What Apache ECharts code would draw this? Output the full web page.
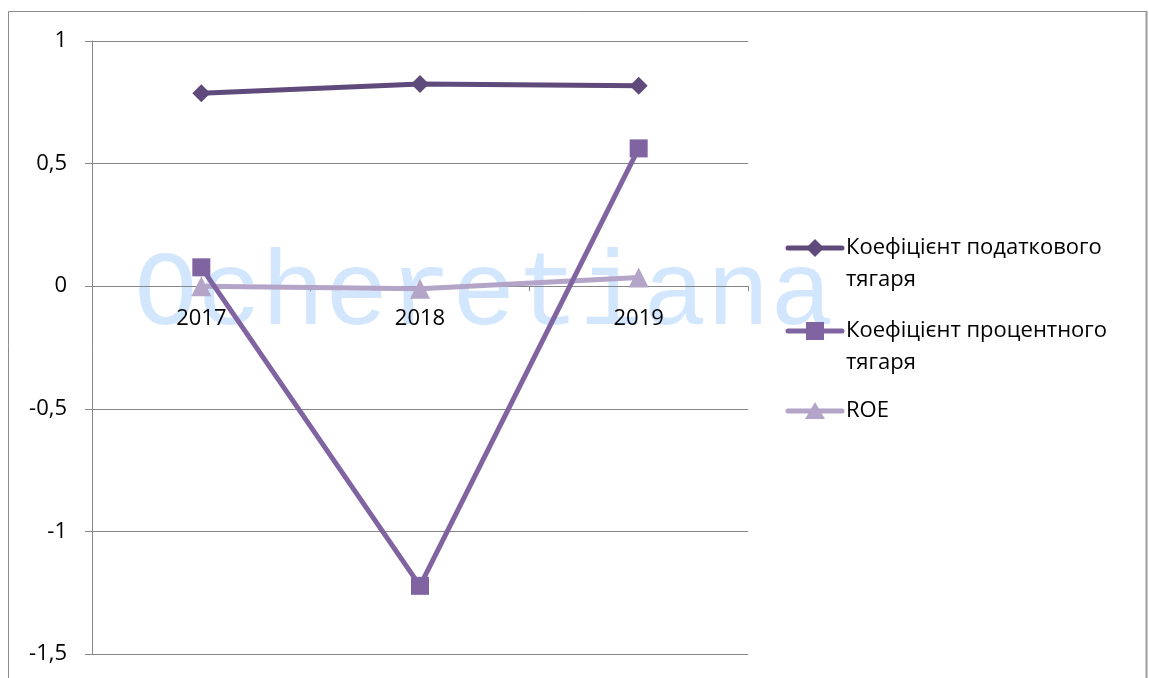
<!DOCTYPE html>
<html>
<head>
<meta charset="utf-8">
<script src="https://cdn.jsdelivr.net/npm/echarts@6/dist/echarts.min.js"></script>
<style>html,body{margin:0;padding:0;background:#fff;}#c{width:1149px;height:678px;}</style>
</head>
<body>
<div id="c"></div>
<script>
var categories = ['2017', '2018', '2019'];
var seriesNames = ['Коефіцієнт податкового тягаря', 'Коефіцієнт процентного тягаря', 'ROE'];
var legendLines = [['Коефіцієнт податкового', 'тягаря'], ['Коефіцієнт процентного', 'тягаря'], ['ROE']];
var taxBurden = [0.787, 0.825, 0.817];
var interestBurden = [0.077, -1.222, 0.562];
var roe = [0.0, -0.01, 0.035];
var yTicks = [-1.5, -1, -0.5, 0, 0.5, 1];

var colors = ['#604a7b', '#8064a2', '#b3a4c8'];
var symbols = ['diamond', 'rect', 'triangle'];
var font = '"Open Sans", "Noto Sans", sans-serif';

var chart = echarts.init(document.getElementById('c'));

function legendGraphics() {
  var g = [];
  var ys = [248, 331, 411];
  for (var i = 0; i < 3; i++) {
    var y = ys[i];
    g.push({type: 'line', shape: {x1: 788, y1: y, x2: 842, y2: y},
      style: {stroke: colors[i], lineWidth: 5, lineCap: 'round'}, z: 10});
    if (i === 0) {
      g.push({type: 'polygon', shape: {points: [[815, y - 9], [824, y], [815, y + 9], [806, y]]},
        style: {fill: colors[i]}, z: 11});
    } else if (i === 1) {
      g.push({type: 'rect', shape: {x: 806, y: y - 9, width: 18, height: 18},
        style: {fill: colors[i]}, z: 11});
    } else {
      g.push({type: 'polygon', shape: {points: [[815, y - 9], [825, y + 8], [805, y + 8]]},
        style: {fill: colors[i]}, z: 11});
    }
    for (var k = 0; k < legendLines[i].length; k++) {
      g.push({type: 'text', x: 846, y: y + k * 32,
        style: {text: legendLines[i][k], fill: '#000', font: '22px ' + font, verticalAlign: 'middle', align: 'left'}, z: 11});
    }
  }
  return g;
}

var graphics = [
  {type: 'rect', shape: {x: 8.5, y: 11.5, width: 1138, height: 700},
    style: {fill: 'none', stroke: '#8a8a8a', lineWidth: 1}, z: 0},
  {type: 'line', shape: {x1: 1146.5, y1: 11, x2: 1146.5, y2: 678},
    style: {stroke: '#9a9a9a', lineWidth: 2}, z: 0},
  {type: 'text', x: 134, y: 296,
    style: {text: 'Ocheretiana', fill: '#d2e7fd', font: '106px "Liberation Mono", monospace', verticalAlign: 'middle', align: 'left'}, z: -1}
].concat(legendGraphics());

var seriesData = [taxBurden, interestBurden, roe];
var series = seriesData.map(function (d, i) {
  return {
    name: seriesNames[i], type: 'line', data: d,
    symbol: symbols[i], symbolSize: i === 2 ? 20 : 18,
    showAllSymbol: true,
    lineStyle: {color: colors[i], width: 5},
    itemStyle: {color: colors[i]},
    z: 5 + (2 - i)
  };
});

chart.setOption({
  animation: false,
  backgroundColor: '#fff',
  grid: {left: 92, right: 401, top: 41, bottom: 24, outerBoundsMode: 'none', containLabel: false},
  xAxis: {
    type: 'category', data: categories, boundaryGap: true,
    position: 'bottom', offset: -367.8,
    axisLine: {onZero: false, lineStyle: {color: '#868686', width: 1}},
    axisTick: {show: true, inside: false, length: 5, alignWithLabel: false, lineStyle: {color: '#868686'}},
    axisLabel: {color: '#000', fontSize: 22, fontFamily: font, margin: 22},
    splitLine: {show: false}
  },
  yAxis: {
    type: 'value', min: -1.5, max: 1, interval: 0.5,
    axisLine: {show: true, lineStyle: {color: '#868686', width: 1}},
    axisTick: {show: true, length: 7, lineStyle: {color: '#868686'}},
    axisLabel: {color: '#000', fontSize: 22, fontFamily: font, margin: 25,
      formatter: function (v) { return String(v).replace('.', ','); }},
    splitLine: {show: true, lineStyle: {color: '#868686', width: 1}}
  },
  graphic: graphics,
  series: series
});
</script>
</body>
</html>
